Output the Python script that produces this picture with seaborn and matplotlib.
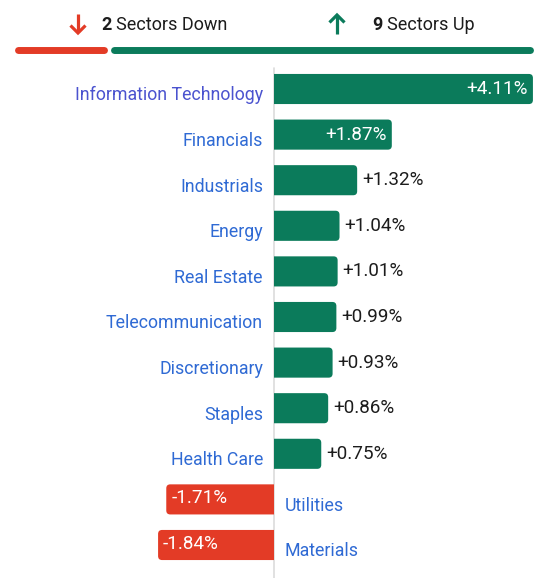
import numpy as np
import pandas as pd
import seaborn as sns
import matplotlib.pyplot as plt
from matplotlib.patches import FancyBboxPatch, Rectangle
from matplotlib.lines import Line2D

sectors = ["Information Technology", "Financials", "Industrials", "Energy",
           "Real Estate", "Telecommunication", "Discretionary", "Staples",
           "Health Care", "Utilities", "Materials"]
changes = [4.11, 1.87, 1.32, 1.04, 1.01, 0.99, 0.93, 0.86, 0.75, -1.71, -1.84]

GREEN = "#0b7b5b"
RED = "#e33b26"
LABEL_BLUE = "#2f6ad4"
LABEL_VISITED = "#4b53cf"
TXT = "#1c1c1c"
FONT = ["Roboto", "DejaVu Sans"]
LFS = 12.8
VFS = 13.6
HFS = 13

W, H = 545, 578
sns.set_theme(style="white")
plt.rcParams["font.family"] = FONT

fig = plt.figure(figsize=(W / 100, H / 100), dpi=100)
ax_top_px = 66
ax = fig.add_axes([0, 0, 1, (H - ax_top_px) / H])

df = pd.DataFrame({
    "sector": sectors,
    "change": changes,
    "dir": ["up" if c >= 0 else "down" for c in changes],
})

sns.barplot(data=df, x="change", y="sector", hue="dir", order=sectors,
            palette={"up": GREEN, "down": RED}, width=0.66, dodge=False,
            legend=False, ax=ax, saturation=1)

PX_PER_UNIT = 63.0
ZERO_PX = 274
ROW_PX = 45.6
ax.set_xlim(-ZERO_PX / PX_PER_UNIT, (W - ZERO_PX) / PX_PER_UNIT)
first_row_px = 89
ax.set_ylim(len(sectors) - 1 + (H - 545) / ROW_PX, -(first_row_px - ax_top_px) / ROW_PX)
ax.set_axis_off()

# rounded bars (outer corners rounded, axis side flat via clipping)
rx = 4 / PX_PER_UNIT
ry = 4 / ROW_PX
for p in list(ax.patches):
    w = p.get_width()
    if w == 0 or np.isnan(w):
        p.set_visible(False)
        continue
    y0 = p.get_y()
    h = p.get_height()
    fc = p.get_facecolor()
    p.set_visible(False)
    if w > 0:
        left, width = -2 * rx, w + 2 * rx
    else:
        left, width = w, -w + 2 * rx
    fb = FancyBboxPatch((left, y0), width, h,
                        boxstyle=f"round,pad=0,rounding_size={rx}",
                        mutation_aspect=ry / rx, fc=fc, ec="none", zorder=2)
    ax.add_patch(fb)
    clip = Rectangle((min(0, w) - (1 if w < 0 else 0), y0 - 0.5), abs(w) + 1, h + 1,
                     transform=ax.transData)
    fb.set_clip_path(clip)

ax.axvline(0, color="#dcdcdc", lw=1.2, ymin=0, ymax=1 - 2 / (H - ax_top_px), zorder=1)

pad = 5 / PX_PER_UNIT
lab_pad = 11 / PX_PER_UNIT
for i, (s, c) in enumerate(zip(sectors, changes)):
    txt = f"{c:+.2f}%"
    inside = abs(c) >= 1.5
    if c >= 0:
        if inside:
            ax.text(c - pad, i + 0.0, txt, ha="right", va="center", color="white",
                    fontsize=VFS, zorder=3)
        else:
            ax.text(c + pad, i + 0.0, txt, ha="left", va="center", color=TXT,
                    fontsize=VFS, zorder=3)
        ax.text(-lab_pad, i + 0.14, s, ha="right", va="center",
                color=LABEL_VISITED if i == 0 else LABEL_BLUE, fontsize=LFS)
    else:
        if inside:
            ax.text(c + pad, i - 0.03, txt, ha="left", va="center", color="white",
                    fontsize=VFS, zorder=3)
        else:
            ax.text(c - pad, i - 0.03, txt, ha="right", va="center", color=TXT,
                    fontsize=VFS, zorder=3)
        ax.text(lab_pad, i + 0.14, s, ha="left", va="center",
                color=LABEL_BLUE, fontsize=LFS)

# header
n_down = sum(1 for c in changes if c < 0)
n_up = sum(1 for c in changes if c >= 0)

def fx(px):
    return px / W

def fy(py):
    return 1 - py / H

lw_pt = 5.0
cap = lw_pt * 100 / 72 / 2
fig.add_artist(Line2D([fx(15 + cap), fx(107 - cap)], [fy(49.5), fy(49.5)], color=RED,
                      lw=lw_pt, solid_capstyle="round"))
fig.add_artist(Line2D([fx(111 + cap), fx(533 - cap)], [fy(49.5), fy(49.5)], color=GREEN,
                      lw=lw_pt, solid_capstyle="round"))

def header_arrow(x, tail, tip, color):
    d = 1 if tip > tail else -1
    hw, hl = 7.5, 7.5
    fig.add_artist(Line2D([fx(x), fx(x)], [fy(tail), fy(tip - d * 1.0)], color=color,
                          lw=2.3, solid_capstyle="butt"))
    fig.add_artist(Line2D([fx(x - hw), fx(x), fx(x + hw)],
                          [fy(tip - d * hl), fy(tip), fy(tip - d * hl)], color=color,
                          lw=2.3, solid_capstyle="butt", solid_joinstyle="miter"))

header_arrow(78, 14, 33, RED)
header_arrow(337, 34, 15, GREEN)

hy = fy(24.5)
fig.text(fx(101), hy, f"{n_down}", color=TXT, fontsize=HFS, fontweight="bold",
         ha="left", va="center")
fig.text(fx(116), hy, "Sectors Down", color=TXT, fontsize=HFS, ha="left", va="center")
fig.text(fx(372), hy, f"{n_up}", color=TXT, fontsize=HFS, fontweight="bold",
         ha="left", va="center")
fig.text(fx(387), hy, "Sectors Up", color=TXT, fontsize=HFS, ha="left", va="center")

fig.savefig("out.png", dpi=100)
